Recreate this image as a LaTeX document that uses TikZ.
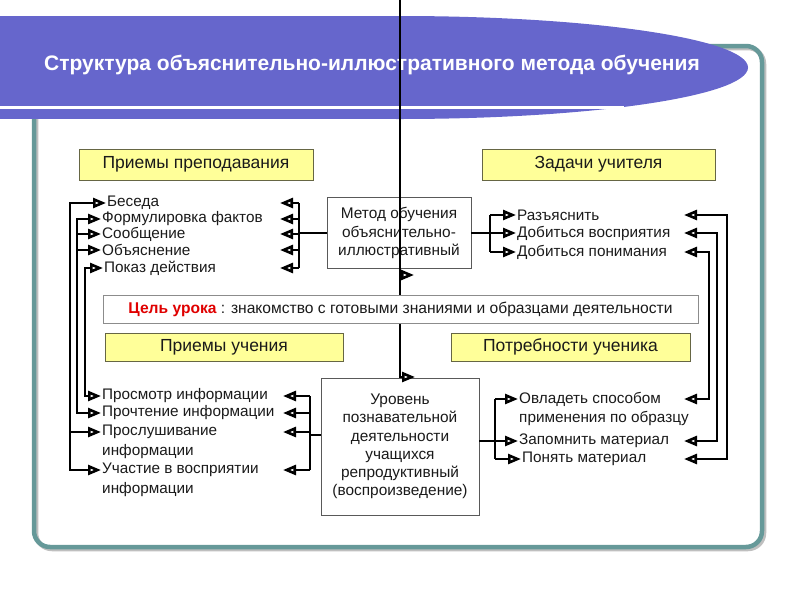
\documentclass[tikz,border=0pt]{standalone}
\usepackage{fontspec}
\setmainfont{Liberation Sans}
\usetikzlibrary{arrows.meta,calc}
\definecolor{banner}{HTML}{6666CC}
\definecolor{framec}{HTML}{669999}
\definecolor{hdrfill}{HTML}{FFFF99}
\definecolor{hdrline}{HTML}{666644}
\definecolor{txt}{HTML}{1A1A1A}
\definecolor{goalred}{HTML}{E00000}
\tikzset{
 conn/.style={line width=2.8pt, black},
 uni/.style={conn, -{Triangle[length=13pt, width=10pt, line width=2.6pt, fill=white]}},
 bi/.style={conn, {Triangle[length=13pt, width=10pt, line width=2.6pt, fill=white]}-{Triangle[length=13pt, width=10pt, line width=2.6pt, fill=white]}},
 item/.style={anchor=west, inner sep=1pt, text=txt, font=\fontsize{15.3}{17}\selectfont},
 hdr/.style={draw=hdrline, fill=hdrfill, line width=0.9pt, font=\fontsize{17.5}{20}\selectfont, inner sep=0pt, text=txt},
 cbox/.style={draw=black!65, fill=white, line width=0.8pt, align=center, font=\fontsize{15.4}{18.2}\selectfont, inner sep=0pt, text=txt},
 titlestyle/.style={text=white, font=\fontsize{21}{24}\selectfont\bfseries, inner sep=0pt},
}
\begin{document}
\begin{tikzpicture}[x=1pt,y=-1pt]
\useasboundingbox (0,0) rectangle (800,600);
% frame
\draw[black!25, line width=4.5pt, rounded corners=16pt] (36,48) rectangle (764,549);
\draw[framec, line width=4.5pt, rounded corners=16pt] (34,46) rectangle (762,547);
% banner
\fill[banner] (0,16) rectangle (400,119);
\fill[banner] (400,67.5) ellipse [x radius=348, y radius=51.5];
\draw[white, line width=3pt] (0,107) -- (624,107);
\node[titlestyle] (title) at (372,65) {Структура объяснительно-иллюстративного метода обучения};

% header boxes
\node[hdr, minimum width=234pt, minimum height=31pt] (h1) at (196,164.5) {Приемы преподавания};
\node[hdr, minimum width=233pt, minimum height=31pt] (h2) at (598.5,164.5) {Задачи учителя};

% central boxes
\node[cbox, minimum width=144pt, minimum height=71pt] (method) at (399,233) {Метод обучения\\объяснительно-\\иллюстративный};
\node[cbox, minimum width=158pt, minimum height=137pt] (lower) at (400,446.5) {Уровень\\познавательной\\деятельности\\учащихся\\репродуктивный\\(воспроизведение)};

% vertical line
\coordinate (topc) at (400,0);
\draw[conn] (topc) -- (lower.north);
\coordinate (m1) at (400,275);
\coordinate (m2) at (400,377);
\draw[uni] (m1) -- ++(14,0);
\draw[uni] (m2) -- ++(15,0);

% goal band
\node[draw=black!45, fill=white, line width=0.7pt, minimum width=595pt, minimum height=28pt, inner sep=0pt, font=\fontsize{15.6}{17}\selectfont, text=txt] (goal) at (400.5,309) {{\color{goalred}\bfseries Цель урока} : знакомство с готовыми знаниями и образцами деятельности};

\node[hdr, minimum width=238pt, minimum height=28pt] (h3) at (224,347) {Приемы учения};
\node[hdr, minimum width=239pt, minimum height=28pt] (h4) at (570.5,347) {Потребности ученика};

% left top items
\node[item] (b1) at (106,203) {Беседа};
\node[item] (b2) at (101,219) {Формулировка фактов};
\node[item] (b3) at (101,234) {Сообщение};
\node[item] (b4) at (101,250) {Объяснение};
\node[item] (b5) at (103,268) {Показ действия};
% left bottom items
\node[item] (c1) at (101,396) {Просмотр информации};
\node[item] (c2) at (101,413) {Прочтение информации};
\node[item] (c3) at (101,432) {Прослушивание};
\node[item] (c3x) at (101,452) {информации};
\node[item] (c4) at (101,470) {Участие в восприятии};
\node[item] (c4x) at (101,490) {информации};
% right top items
\node[item] (d1) at (516,215) {Разъяснить};
\node[item] (d2) at (516,233) {Добиться восприятия};
\node[item] (d3) at (516,252) {Добиться понимания};
% right bottom items
\node[item] (e1) at (518,399) {Овладеть способом};
\node[item] (e1x) at (518,418) {применения по образцу};
\node[item] (e2) at (518,441) {Запомнить материал};
\node[item] (e3) at (521,459) {Понять материал};

% left outer buses
\coordinate (busA) at (70,0);
\coordinate (busB) at (77,0);
\coordinate (busC) at (85,0);
\draw[bi] (b1.west) -- (busA |- b1.west) -- (busA |- c4.west) -- (c4.west);
\draw[uni] (busA |- c3.west) -- (c3.west);
\draw[bi] (b2.west) -- (busB |- b2.west) -- (busB |- c2.west) -- (c2.west);
\draw[uni] (busB |- b3.west) -- (b3.west);
\draw[uni] (busB |- b4.west) -- (b4.west);
\draw[bi] (b5.west) -- (busC |- b5.west) -- (busC |- c1.west) -- (c1.west);

% left top inner bus
\coordinate (busL) at (299,0);
\coordinate (tipL) at (280,0);
\draw[conn] (method.west) -- (busL |- method.west);
\draw[conn] (busL |- b1.west) -- (busL |- b5.west);
\foreach \n in {b1,b2,b3,b4,b5} {\draw[uni] (busL |- \n.west) -- (tipL |- \n.west);}

% left bottom inner bus
\coordinate (busM) at (310,0);
\coordinate (tipM) at (283,0);
\coordinate (lm) at (310,435);
\draw[conn] (lm) -- (lm -| lower.west);
\draw[conn] (busM |- c1.west) -- (busM |- c4.west);
\foreach \n in {c1,c2,c3,c4} {\draw[uni] (busM |- \n.west) -- (tipM |- \n.west);}

% right top inner bus
\coordinate (busR) at (490,0);
\draw[conn] (method.east) -- (busR |- method.east);
\draw[conn] (busR |- d1.west) -- (busR |- d3.west);
\foreach \n in {d1,d2,d3} {\draw[uni] (busR |- \n.west) -- (\n.west);}

% right bottom inner bus
\coordinate (busS) at (495,0);
\coordinate (rm) at (495,441);
\draw[conn] (rm -| lower.east) -- (rm);
\draw[conn] (busS |- e1.west) -- (busS |- e3.west);
\foreach \n in {e1,e2,e3} {\draw[uni] (busS |- \n.west) -- (\n.west);}

% right outer buses
\coordinate (busF1) at (727,0);
\coordinate (busF2) at (717,0);
\coordinate (busF3) at (709,0);
\coordinate (tipF) at (684,0);
\draw[bi] (tipF |- d1.west) -- (busF1 |- d1.west) -- (busF1 |- e3.west) -- (tipF |- e3.west);
\draw[bi] (tipF |- d2.west) -- (busF2 |- d2.west) -- (busF2 |- e2.west) -- (tipF |- e2.west);
\draw[bi] (tipF |- d3.west) -- (busF3 |- d3.west) -- (busF3 |- e1.west) -- (tipF |- e1.west);
\end{tikzpicture}
\end{document}
